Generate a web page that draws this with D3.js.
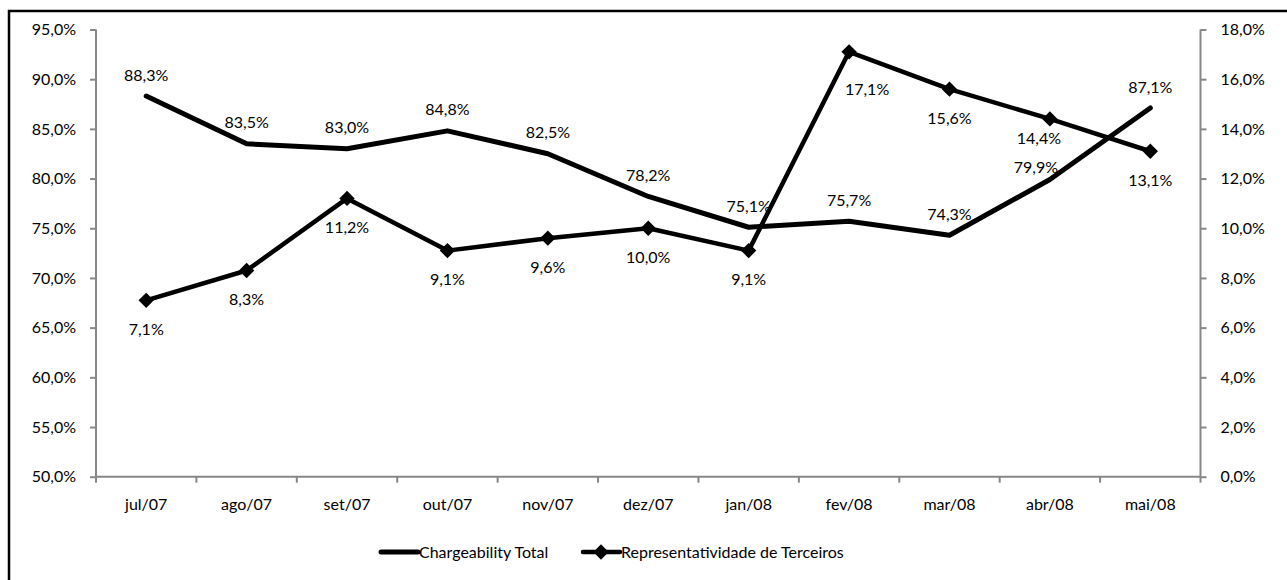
<!DOCTYPE html>
<html>
<head>
<meta charset="utf-8">
<script src="https://cdn.jsdelivr.net/npm/d3@7/dist/d3.min.js"></script>
<style>
  html, body { margin: 0; padding: 0; background: #fff; }
  svg { display: block; }
  text { font-family: Lato, "Open Sans", sans-serif; font-size: 16px; fill: #000; }
</style>
</head>
<body>
<svg id="chart" width="1287" height="580"></svg>
<script>
// Monthly series
const categories = ["jul/07", "ago/07", "set/07", "out/07", "nov/07", "dez/07",
                    "jan/08", "fev/08", "mar/08", "abr/08", "mai/08"];
const chargeabilityTotal = [88.3, 83.5, 83.0, 84.8, 82.5, 78.2, 75.1, 75.7, 74.3, 79.9, 87.1];
const representatividadeTerceiros = [7.1, 8.3, 11.2, 9.1, 9.6, 10.0, 9.1, 17.1, 15.6, 14.4, 13.1];
const leftTicks = [50, 55, 60, 65, 70, 75, 80, 85, 90, 95];
const rightTicks = [0, 2, 4, 6, 8, 10, 12, 14, 16, 18];
const seriesNames = ["Chargeability Total", "Representatividade de Terceiros"];

const fmt = v => v.toFixed(1).replace(".", ",") + "%";
const axisColor = "#878787";

const svg = d3.select("#chart");

// Outer frame
svg.append("rect")
  .attr("x", 9).attr("y", 11)
  .attr("width", 1300).attr("height", 600)
  .attr("fill", "none").attr("stroke", "#000").attr("stroke-width", 2.5);

const plot = { left: 96, right: 1200.5, top: 29.5, bottom: 476.7 };

const x = d3.scaleBand().domain(categories).range([plot.left, plot.right]);
const yLeft = d3.scaleLinear().domain([50, 95]).range([plot.bottom, plot.top]);
const yRight = d3.scaleLinear().domain([0, 18]).range([plot.bottom, plot.top]);
const cx = c => x(c) + x.bandwidth() / 2;

// Left axis
const gL = svg.append("g").attr("transform", `translate(${plot.left},0)`)
  .call(d3.axisLeft(yLeft).tickValues(leftTicks).tickFormat(fmt).tickSize(6).tickPadding(14));
// Right axis
const gR = svg.append("g").attr("transform", `translate(${plot.right},0)`)
  .call(d3.axisRight(yRight).tickValues(rightTicks).tickFormat(fmt).tickSize(6).tickPadding(14));
// Bottom axis: ticks on band boundaries
const gB = svg.append("g").attr("transform", `translate(0,${plot.bottom})`)
  .call(d3.axisBottom(x).tickSize(0).tickPadding(22));
gB.selectAll(".bt").data(d3.range(categories.length + 1)).enter().append("line")
  .attr("class", "bt")
  .attr("x1", i => plot.left + i * x.step()).attr("x2", i => plot.left + i * x.step())
  .attr("y1", 0).attr("y2", 6)
  .attr("stroke", axisColor).attr("stroke-width", 2);

[gL, gR, gB].forEach(g => {
  g.selectAll(".domain").attr("stroke", axisColor).attr("stroke-width", 2);
  g.selectAll(".tick line").attr("stroke", axisColor).attr("stroke-width", 2);
  g.selectAll("text").attr("font-family", "Lato, 'Open Sans', sans-serif")
    .attr("font-size", 16).attr("fill", "#000");
});
gL.select(".domain").attr("d", `M0,${plot.top}V${plot.bottom}`);
gR.select(".domain").attr("d", `M0,${plot.top}V${plot.bottom}`);
gB.select(".domain").attr("d", `M${plot.left},0H${plot.right}`);

// Chargeability Total line (left axis)
const lineL = d3.line().x((d, i) => cx(categories[i])).y(d => yLeft(d));
svg.append("path").datum(chargeabilityTotal)
  .attr("d", lineL).attr("fill", "none").attr("stroke", "#000")
  .attr("stroke-width", 5).attr("stroke-linejoin", "round").attr("stroke-linecap", "round");

// Representatividade de Terceiros line (right axis) with diamond markers
const lineR = d3.line().x((d, i) => cx(categories[i])).y(d => yRight(d));
svg.append("path").datum(representatividadeTerceiros)
  .attr("d", lineR).attr("fill", "none").attr("stroke", "#000")
  .attr("stroke-width", 4.5).attr("stroke-linejoin", "round");

const diamond = d3.symbol().type(d3.symbolDiamond2).size(150);
svg.selectAll(".marker").data(representatividadeTerceiros).enter().append("path")
  .attr("class", "marker")
  .attr("transform", (d, i) => `translate(${cx(categories[i])},${yRight(d)})`)
  .attr("d", diamond).attr("fill", "#000");

// Value labels; a few are nudged sideways where lines cross
const nudgeL = { 9: [-14, 9] };
const nudgeR = { 7: [18, 9], 10: [0, 0], 9: [-11, -10] };

svg.selectAll(".lblL").data(chargeabilityTotal).enter().append("text")
  .attr("class", "lblL")
  .attr("x", (d, i) => cx(categories[i]) + (nudgeL[i] ? nudgeL[i][0] : 0))
  .attr("y", (d, i) => yLeft(d) - 21 + (nudgeL[i] ? nudgeL[i][1] : 0))
  .attr("dy", "0.35em").attr("text-anchor", "middle")
  .text(fmt);

svg.selectAll(".lblR").data(representatividadeTerceiros).enter().append("text")
  .attr("class", "lblR")
  .attr("x", (d, i) => cx(categories[i]) + (nudgeR[i] ? nudgeR[i][0] : 0))
  .attr("y", (d, i) => yRight(d) + 29 + (nudgeR[i] ? nudgeR[i][1] : 0))
  .attr("dy", "0.35em").attr("text-anchor", "middle")
  .text(fmt);

// Legend
const legY = 552;
const leg = svg.append("g");
leg.append("line").attr("x1", 381).attr("x2", 418).attr("y1", legY).attr("y2", legY)
  .attr("stroke", "#000").attr("stroke-width", 5).attr("stroke-linecap", "round");
leg.append("text").attr("x", 419).attr("y", legY).attr("dy", "0.35em").text(seriesNames[0]);
leg.append("line").attr("x1", 583).attr("x2", 620).attr("y1", legY).attr("y2", legY)
  .attr("stroke", "#000").attr("stroke-width", 4.5).attr("stroke-linecap", "round");
leg.append("path").attr("transform", `translate(601,${legY})`).attr("d", diamond).attr("fill", "#000");
leg.append("text").attr("x", 621).attr("y", legY).attr("dy", "0.35em").text(seriesNames[1]);
</script>
</body>
</html>
